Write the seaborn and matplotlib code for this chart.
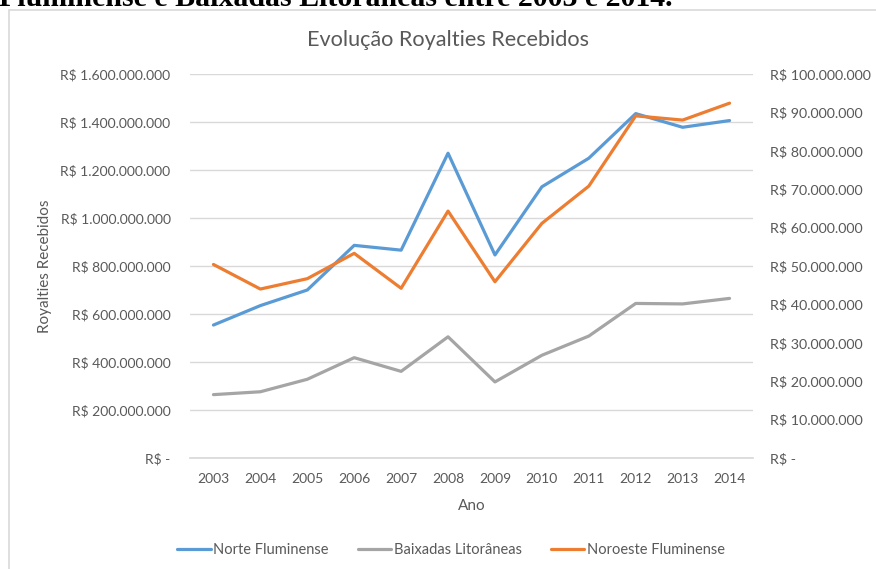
import matplotlib
matplotlib.use('Agg')
import matplotlib.pyplot as plt
import matplotlib.patches as patches
from matplotlib.ticker import FuncFormatter, MultipleLocator
import pandas as pd
import seaborn as sns

years = ['2003', '2004', '2005', '2006', '2007', '2008',
         '2009', '2010', '2011', '2012', '2013', '2014']
norte = [554e6, 635e6, 700e6, 886e6, 866e6, 1270e6,
         846e6, 1130e6, 1249e6, 1435e6, 1378e6, 1406e6]
baixadas = [264e6, 276e6, 328e6, 418e6, 361e6, 505e6,
            317e6, 428e6, 508e6, 644e6, 642e6, 665e6]
noroeste = [50.4e6, 44.0e6, 46.7e6, 53.3e6, 44.2e6, 64.3e6,
            45.9e6, 61.1e6, 70.8e6, 89.1e6, 88.0e6, 92.4e6]

names = ['Norte Fluminense', 'Baixadas Litorâneas', 'Noroeste Fluminense']
colors = ['#5B9BD5', '#A5A5A5', '#ED7D31']
text_gray = '#595959'
grid_gray = '#D9D9D9'

df = pd.DataFrame({'Ano': years, names[0]: norte, names[1]: baixadas,
                   names[2]: noroeste})


def brl(v, pos=None):
    if abs(v) < 1:
        return 'R$ -'
    return 'R$ ' + f'{v:,.0f}'.replace(',', '.')


sns.set_theme(style='white')
plt.rcParams['font.family'] = ['Lato', 'DejaVu Sans']

W, H = 876, 569
fig = plt.figure(figsize=(W / 100, H / 100), dpi=100)
ax = fig.add_axes([190 / W, 1 - 458 / H, (753 - 190) / W, (458 - 74) / H])
ax2 = ax.twinx()

sns.lineplot(data=df, x='Ano', y=names[0], ax=ax, color=colors[0],
             linewidth=2.3, sort=False, label=names[0], legend=False)
sns.lineplot(data=df, x='Ano', y=names[1], ax=ax, color=colors[1],
             linewidth=2.3, sort=False, label=names[1], legend=False)
sns.lineplot(data=df, x='Ano', y=names[2], ax=ax2, color=colors[2],
             linewidth=2.3, sort=False, label=names[2], legend=False)

ax.set_xlim(-0.5, len(years) - 0.5)
ax.set_ylim(0, 1.6e9)
ax2.set_ylim(0, 100e6)
ax.yaxis.set_major_locator(MultipleLocator(200e6))
ax2.yaxis.set_major_locator(MultipleLocator(10e6))
ax.yaxis.set_major_formatter(FuncFormatter(brl))
ax2.yaxis.set_major_formatter(FuncFormatter(brl))
ax.grid(axis='y', color=grid_gray, linewidth=1)
ax.set_axisbelow(True)

for a in (ax, ax2):
    for s in a.spines.values():
        s.set_visible(False)
    a.tick_params(length=0, labelsize=10, colors=text_gray)
ax.spines['bottom'].set_visible(True)
ax.spines['bottom'].set_color(grid_gray)
ax.tick_params(axis='y', pad=14)
ax2.tick_params(axis='y', pad=12, labelsize=10.3)
ax.tick_params(axis='x', pad=11)

ax.set_xlabel('Ano', fontsize=11, color=text_gray, labelpad=10)
ax.set_ylabel('Royalties Recebidos', fontsize=11, color=text_gray, labelpad=6)
ax2.set_ylabel('')

fig.text(448 / W, 1 - 40 / H, 'Evolução Royalties Recebidos', ha='center',
         va='center', fontsize=15.6, color=text_gray)

fig.text(-1 / W, 1 - 6 / H, 'Fluminense e Baixadas Litorâneas entre 2003 e 2014.',
         ha='left', va='baseline', fontsize=21.5, fontweight='bold',
         family='Liberation Serif', color='black')

fig.add_artist(patches.Rectangle((8.5 / W, -0.1), 1.2, 1 - 10 / H + 0.1,
                                 transform=fig.transFigure, fill=False,
                                 edgecolor=grid_gray, linewidth=1.2))

handles = ax.get_lines()[:2] + ax2.get_lines()[:1]
fig.legend(handles, names, loc='center', bbox_to_anchor=(451 / W, 1 - 550 / H),
           ncol=3, frameon=False, fontsize=10.5, handlelength=2.3,
           handletextpad=0.15, columnspacing=2.0, labelcolor=text_gray)

fig.savefig('out.png', dpi=100, facecolor='white')
